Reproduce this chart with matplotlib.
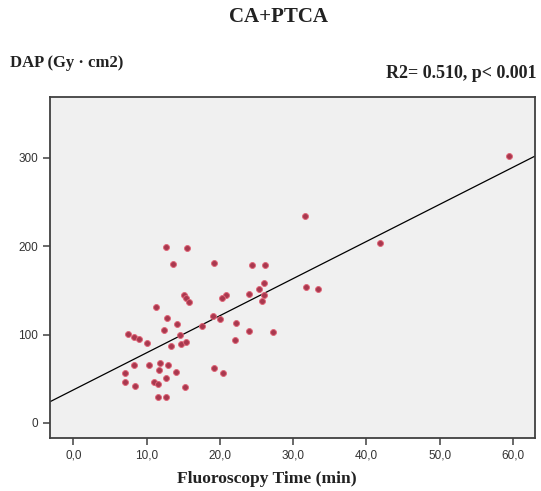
import numpy as np
import matplotlib
matplotlib.use('Agg')
import matplotlib.pyplot as plt
from matplotlib.ticker import FuncFormatter

# data
fluoro_time = [12.6, 15.5, 13.6, 19.2, 24.4, 26.2, 26.0, 25.3, 23.9, 26.0,
               25.7, 15.1, 15.4, 15.8, 20.8, 20.3, 11.3, 12.8, 14.2, 19.1,
               20.0, 17.6, 22.2, 23.9, 27.3, 22.1, 12.3, 14.6, 13.3, 14.7,
               15.3, 7.5, 8.2, 8.9, 10.0, 8.3, 10.3, 11.8, 12.9, 11.7,
               14.0, 19.2, 20.4, 7.0, 7.0, 8.4, 11.0, 11.6, 12.6, 15.2,
               11.6, 12.6, 31.6, 41.8, 31.8, 33.4, 59.5]
dap = [199.7, 198.5, 180, 180.8, 179, 179, 158, 151.4, 145.7, 145,
       138.5, 145, 141, 137, 145, 141, 131.7, 119, 112, 121.5,
       117.4, 110, 113, 104, 102.7, 94, 105, 99.7, 87.6, 89.5,
       92, 100.8, 97, 94.8, 90.2, 65.7, 65.7, 67.5, 65.7, 60,
       57.4, 62, 56.2, 56.2, 46, 42.2, 46.8, 44.2, 50.6, 40.4,
       29, 29.8, 234.8, 203.5, 154.4, 151.8, 302]

# fitted line as drawn in the picture
fit_intercept = 37.5
fit_slope = 4.2

x_ticks = [0, 10, 20, 30, 40, 50, 60]
y_ticks = [0, 100, 200, 300]

W, H = 541, 491
fig = plt.figure(figsize=(W / 100, H / 100), dpi=100)
ax = fig.add_axes([50 / W, 1 - 438 / H, (535 - 50) / W, (438 - 97) / H])
ax.set_facecolor('#f0f0f0')

ax.scatter(fluoro_time, dap, s=18, color='#a8384e', edgecolors='#e06678',
           linewidths=0.7, zorder=3)

xlim = (-3.2, 63.0)
xs = np.array(xlim)
ax.plot(xs, fit_intercept + fit_slope * xs, color='black', lw=0.9, zorder=2)

ax.set_xlim(xlim)
ax.set_ylim(-17, 369)
ax.set_xticks(x_ticks)
ax.set_yticks(y_ticks)
ax.xaxis.set_major_formatter(FuncFormatter(lambda v, p: '{:.1f}'.format(v).replace('.', ',')))

for sp in ax.spines.values():
    sp.set_color('#404040')
    sp.set_linewidth(1.3)
ax.tick_params(direction='out', length=5, width=1.1, color='#404040',
               labelsize=8.5, labelcolor='#333333')
for lbl in ax.get_xticklabels() + ax.get_yticklabels():
    lbl.set_family('Liberation Sans')

serif = 'Liberation Serif'
fig.text(278 / W, 1 - 17 / H, 'CA+PTCA', ha='center', va='center',
         fontsize=15, fontweight='bold', family=serif, color='#222222')
fig.text(10 / W, 1 - 63 / H, 'DAP (Gy \u00b7 cm2)', ha='left', va='center',
         fontsize=12, fontweight='bold', family=serif, color='#222222')
fig.text(537 / W, 1 - 74 / H, 'R2= 0.510, p< 0.001', ha='right', va='center',
         fontsize=13, fontweight='bold', family=serif, color='#222222')
fig.text(267 / W, 1 - 479 / H, 'Fluoroscopy Time (min)', ha='center', va='center',
         fontsize=12.6, fontweight='bold', family=serif, color='#222222')

fig.savefig('out.png', dpi=100)
